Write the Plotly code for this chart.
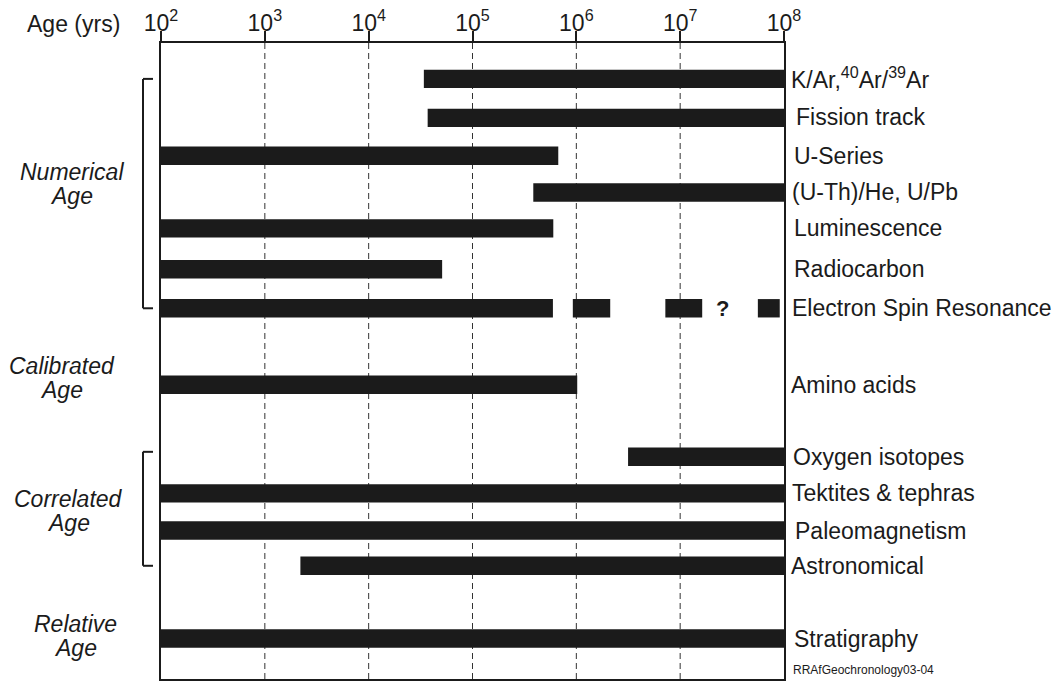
import math
import plotly.graph_objects as go

# ---------------- data ----------------
methods = [
    "K/Ar,<sup>40</sup>Ar/<sup>39</sup>Ar",
    "Fission track",
    "U-Series",
    "(U-Th)/He, U/Pb",
    "Luminescence",
    "Radiocarbon",
    "Electron Spin Resonance",
    "Amino acids",
    "Oxygen isotopes",
    "Tektites & tephras",
    "Paleomagnetism",
    "Astronomical",
    "Stratigraphy",
]
age_min = [3.4e4, 3.7e4, 1e2, 3.85e5, 1e2, 1e2, 1e2, 1e2, 3.15e6, 1e2, 1e2, 2.2e3, 1e2]
age_max = [1e8, 1e8, 6.7e5, 1e8, 6.0e5, 5.1e4, 5.95e5, 1.02e6, 1e8, 1e8, 1e8, 1e8, 1e8]

# extra (uncertain) ESR segments
esr_extra_min = [9.25e5, 7.2e6, 5.6e7]
esr_extra_max = [2.12e6, 1.63e7, 9.1e7]
esr_question_age = 2.56e7

tick_vals = [1e2, 1e3, 1e4, 1e5, 1e6, 1e7, 1e8]
tick_text = ["10<sup>2</sup>", "10<sup>3</sup>", "10<sup>4</sup>", "10<sup>5</sup>",
             "10<sup>6</sup>", "10<sup>7</sup>", "10<sup>8</sup>"]

groups = [("Numerical", "Age"), ("Calibrated", "Age"), ("Correlated", "Age"), ("Relative", "Age")]

# ---------------- layout helpers ----------------
ROW0_PX, ROW_PX = 79, 37.6          # pixel centre of first row, pixels per row unit
def px2row(py):
    return (py - ROW0_PX) / ROW_PX

row_pos = [0, 1.04, 2.05, 3.03, 3.99, 5.08, 6.12, 8.16, 10.08, 11.06, 12.05, 12.99, 14.93]
esr_row = row_pos[6]
group_line_px = [(172, 196), (367, 391), (500, 525), (626, 650)]
group_px = [(72, 71), (62, 62), (68, 68), (76, 76)]
label_px = [789, 794, 792, 790, 792, 792, 790, 789, 791, 790, 793, 789, 792]
label_shift = [1, 1, 0, 0, 0, 0, 0, 0, 0, 0, 0, 0, 0]

L, R_EDGE, W = 161, 784, 1053
PW = R_EDGE - L
def px2paper(px):
    return (px - L) / PW

INK = "#1b1b1b"
FONT = "Liberation Sans, Arial, sans-serif"
BAR_W = 0.49

fig = go.Figure()

fig.add_trace(go.Bar(
    orientation="h",
    y=row_pos,
    base=age_min,
    x=[b - a for a, b in zip(age_min, age_max)],
    width=BAR_W,
    marker=dict(color=INK, line=dict(width=0)),
    hoverinfo="skip",
    showlegend=False,
))
fig.add_trace(go.Bar(
    orientation="h",
    y=[esr_row] * len(esr_extra_min),
    base=esr_extra_min,
    x=[b - a for a, b in zip(esr_extra_min, esr_extra_max)],
    width=BAR_W,
    marker=dict(color=INK, line=dict(width=0)),
    hoverinfo="skip",
    showlegend=False,
))

annotations = []
for name, yp, lx, ys in zip(methods, row_pos, label_px, label_shift):
    annotations.append(dict(
        text=name, xref="paper", yref="y", x=px2paper(lx), y=yp, yshift=ys,
        xanchor="left", yanchor="middle", showarrow=False,
        font=dict(family=FONT, size=23, color=INK),
    ))
for (w1, w2), (py1, py2), (gx1, gx2) in zip(groups, group_line_px, group_px):
    for word, py, gx in ((w1, py1, gx1), (w2, py2, gx2)):
        annotations.append(dict(
            text="<i>" + word + "</i>", xref="paper", yref="y", x=px2paper(gx), y=px2row(py),
            xanchor="center", yanchor="middle", showarrow=False,
            font=dict(family=FONT, size=23, color=INK),
        ))
annotations.append(dict(
    text="<b>?</b>", xref="x", yref="y", x=math.log10(esr_question_age), y=esr_row,
    xanchor="center", yanchor="middle", showarrow=False,
    font=dict(family=FONT, size=22, color=INK),
))
annotations.append(dict(
    text="Age (yrs)", xref="paper", yref="paper", x=px2paper(73), y=1 + 19 / 638,
    xanchor="center", yanchor="middle", showarrow=False,
    font=dict(family=FONT, size=23, color=INK),
))
annotations.append(dict(
    text="RRAfGeochronology03-04", xref="paper", yref="paper", x=px2paper(791), y=0.0,
    xanchor="left", yanchor="bottom", showarrow=False,
    font=dict(family=FONT, size=12, color=INK),
))

shapes = []
# dashed gridlines
for tv in tick_vals[1:-1]:
    shapes.append(dict(type="line", xref="x", yref="paper", x0=tv, x1=tv, y0=0, y1=1,
                       line=dict(color="#333333", width=1, dash="6px,4px"), layer="below"))
# brackets
def bracket(y0, y1):
    xa, xb = px2paper(143), px2paper(153)
    out = []
    out.append(dict(type="line", xref="paper", yref="y", x0=xa, x1=xa, y0=y0, y1=y1,
                    line=dict(color=INK, width=2)))
    out.append(dict(type="line", xref="paper", yref="y", x0=xa, x1=xb, y0=y0, y1=y0,
                    line=dict(color=INK, width=2)))
    out.append(dict(type="line", xref="paper", yref="y", x0=xa, x1=xb, y0=y1, y1=y1,
                    line=dict(color=INK, width=2)))
    return out
shapes += bracket(row_pos[0], row_pos[6])
shapes += bracket(row_pos[8] - 0.13, row_pos[11])

fig.update_layout(
    width=W, height=684,
    margin=dict(l=L, r=W - R_EDGE, t=43, b=3),
    paper_bgcolor="white", plot_bgcolor="white",
    barmode="overlay",
    xaxis=dict(
        type="log", range=[2, 8], side="top",
        tickvals=tick_vals, ticktext=tick_text,
        ticks="outside", ticklen=10, tickwidth=2, tickcolor=INK,
        ticklabelstandoff=-9,
        showline=True, linecolor=INK, linewidth=2, mirror=True,
        showgrid=False, zeroline=False,
        tickfont=dict(family=FONT, size=23, color=INK),
        fixedrange=True,
    ),
    yaxis=dict(
        range=[px2row(681), px2row(43)], showticklabels=False, ticks="",
        showline=True, linecolor=INK, linewidth=2, mirror=True,
        showgrid=False, zeroline=False, fixedrange=True,
    ),
    annotations=annotations,
    shapes=shapes,
    font=dict(family=FONT, color=INK),
)

fig.write_html(
    "out.html",
    config={"displayModeBar": False},
    post_script="document.body.style.margin='0';document.body.style.overflow='hidden';",
)
